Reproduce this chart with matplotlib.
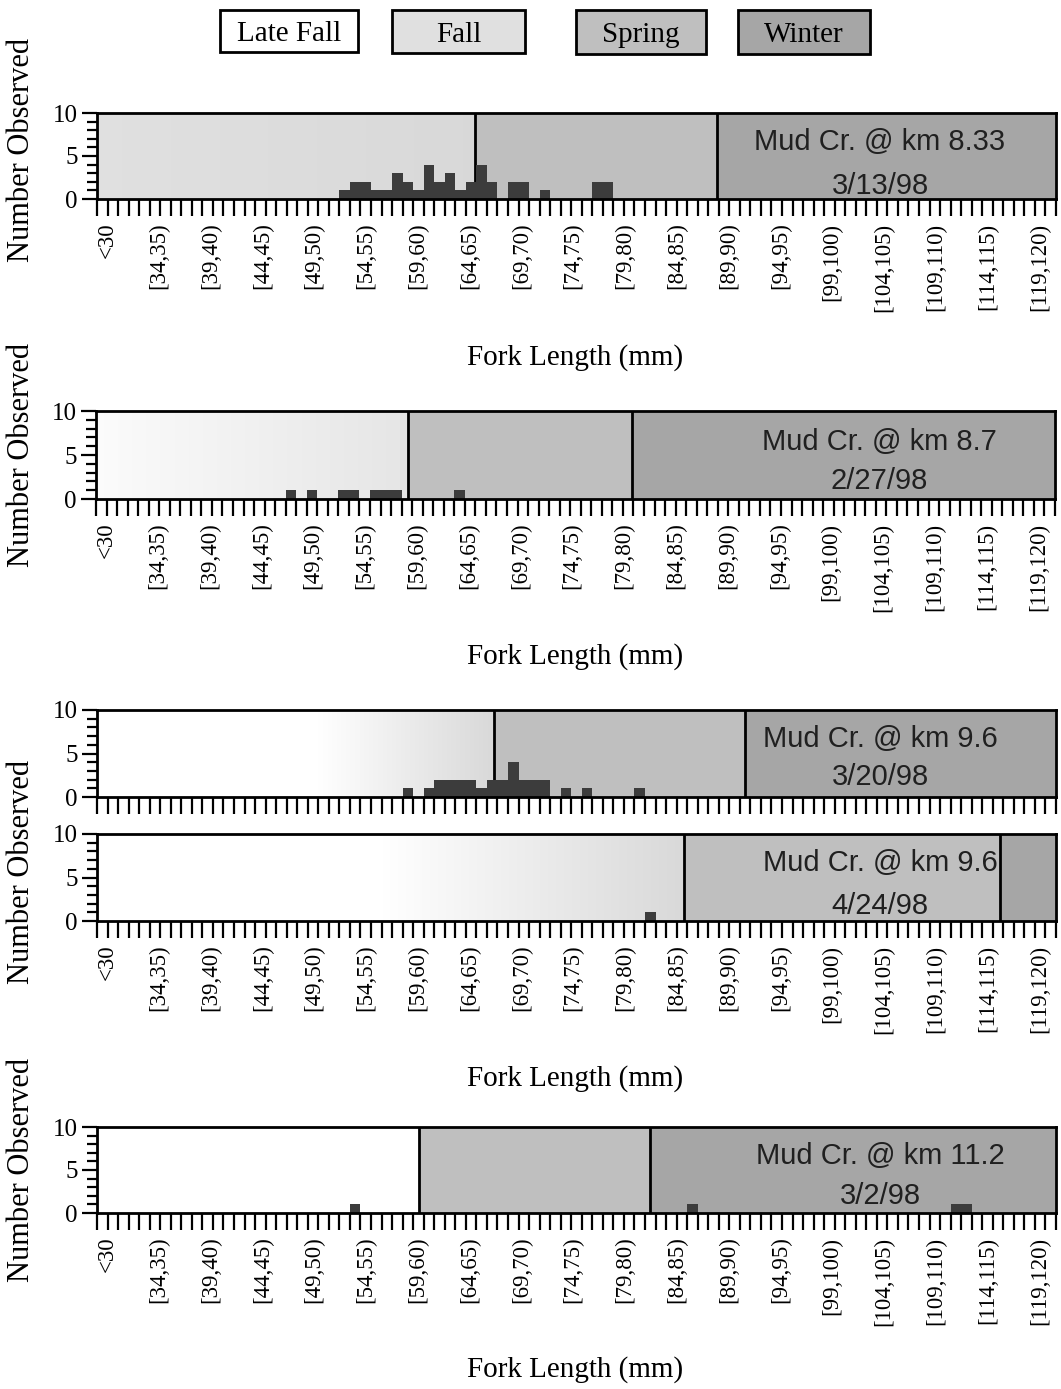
import numpy as np
import matplotlib
matplotlib.use("Agg")
import matplotlib.pyplot as plt
from matplotlib.patches import Rectangle
from matplotlib.colors import LinearSegmentedColormap
from matplotlib.ticker import FixedLocator, MultipleLocator

# ---- fork-length classes: "<30" then 1-mm classes [30,31) ... [119,120)
class_lower = list(range(30, 120))
categories = ["<30"] + [f"[{a},{a + 1})" for a in class_lower]
label_every = 5

# ---- catches per site (fork-length class lower bound -> number observed)
km833_len = [52, 53, 54, 55, 56, 57, 58, 59, 60, 61, 62, 63, 64, 65, 66, 68, 69, 71, 76, 77]
km833_n = [1, 2, 2, 1, 1, 3, 2, 1, 4, 2, 3, 1, 2, 4, 2, 2, 2, 1, 2, 2]

km87_len = [47, 49, 52, 53, 55, 56, 57, 63]
km87_n = [1, 1, 1, 1, 1, 1, 1, 1]

km96a_len = [58, 60, 61, 62, 63, 64, 65, 66, 67, 68, 69, 70, 71, 73, 75, 80]
km96a_n = [1, 1, 2, 2, 2, 2, 1, 2, 2, 4, 2, 2, 2, 1, 1, 1]

km96b_len = [81]
km96b_n = [1]

km112_len = [53, 85, 110, 111]
km112_n = [1, 1, 1, 1]

# run-size criteria on each sampling date (mm): start of Spring, start of Winter
spring_start = [64.9, 58.6, 66.7, 84.7, 59.6]
winter_start = [87.8, 79.9, 90.5, 114.7, 81.5]

site_names = ["Mud Cr. @ km 8.33", "Mud Cr. @ km 8.7", "Mud Cr. @ km 9.6",
              "Mud Cr. @ km 9.6", "Mud Cr. @ km 11.2"]
dates = ["3/13/98", "2/27/98", "3/20/98", "4/24/98", "3/2/98"]

season_names = ["Late Fall", "Fall", "Spring", "Winter"]

# ---- styling
W, H = 1061, 1389
SERIF = ["Liberation Serif", "DejaVu Serif"]
SANS = ["Liberation Sans", "DejaVu Sans"]
c_fall = "#e0e0e0"
c_spring = "#bfbfbf"
c_winter = "#a6a6a6"
c_bar = "#3c3c3c"

# class-label placement along the axis (slightly tighter than the class grid)
label_origin = 0.45
label_step = 4.915

# left-region shading: (fade start in mm, shade at fade start, shade at spring line)
left_shade = [(29.5, 0.88, 0.85), (29.5, 0.985, 0.90), (50.0, 1.0, 0.85),
              (56.0, 1.0, 0.85), (29.5, 1.0, 1.0)]

# axes boxes in pixels: left, right, top, bottom
boxes = [(97, 1056, 113, 199), (96, 1055, 411, 499), (97, 1056, 710, 797),
         (97, 1056, 834, 921), (97, 1056, 1127, 1213)]
show_xlabels = [True, True, False, True, True]
text_y = [(0.665, 0.155), (0.645, 0.2), (0.665, 0.235), (0.665, 0.175), (0.66, 0.2)]

series = [(km833_len, km833_n), (km87_len, km87_n), (km96a_len, km96a_n),
          (km96b_len, km96b_n), (km112_len, km112_n)]


def mm_to_x(v):
    # class k covers [29+k, 30+k) and is drawn from k-0.5 to k+0.5
    return v - 29.5


def full_counts(lengths, counts):
    arr = np.zeros(len(categories))
    for L, n in zip(lengths, counts):
        arr[L - 29] = n
    return arr


fig = plt.figure(figsize=(W / 100, H / 100), dpi=100)
x = np.arange(len(categories))
xmin, xmax = -0.5, len(categories) - 0.5
label_idx = list(range(0, len(categories), label_every))
label_pos = [label_origin + label_step * j for j in range(len(label_idx))]

for i, (l, r, t, b) in enumerate(boxes):
    ax = fig.add_axes([l / W, 1 - b / H, (r - l) / W, (b - t) / H])
    xs, xw = mm_to_x(spring_start[i]), mm_to_x(winter_start[i])

    # left region: late fall / fall shading
    f0, s0, s1 = left_shade[i]
    ax.axvspan(xmin, xs, color=str(s0), lw=0, zorder=0)
    xf = max(mm_to_x(f0), xmin)
    cmap = LinearSegmentedColormap.from_list("fade", [str(s0), str(s1)])
    ax.imshow(np.linspace(0, 1, 256)[None, :], cmap=cmap, aspect="auto",
              extent=[xf, xs, 0, 10], zorder=0.5, interpolation="bilinear")
    ax.axvspan(xs, xw, color=c_spring, lw=0, zorder=1)
    ax.axvspan(xw, xmax, color=c_winter, lw=0, zorder=1)
    for xv in (xs, xw):
        ax.axvline(xv, color="black", lw=2, zorder=2)

    counts = full_counts(*series[i])
    ax.bar(x, counts, width=1.0, color=c_bar, lw=0, zorder=3)

    ax.set_xlim(xmin, xmax)
    ax.set_ylim(0, 10)

    for s in ax.spines.values():
        s.set_linewidth(2)
        s.set_zorder(5)

    ax.yaxis.set_major_locator(FixedLocator([0, 5, 10]))
    ax.yaxis.set_minor_locator(MultipleLocator(1))
    ax.tick_params(axis="y", which="major", length=11, width=1.6, labelsize=18, pad=3)
    ax.tick_params(axis="y", which="minor", length=7, width=1.6)
    for lab in ax.get_yticklabels():
        lab.set_fontfamily(SERIF)

    ax.xaxis.set_major_locator(FixedLocator(label_pos))
    ax.xaxis.set_minor_locator(FixedLocator(np.arange(xmin, xmax + 0.01, 1.0)))
    ax.tick_params(axis="x", which="major", length=0, pad=17)
    ax.tick_params(axis="x", which="minor", length=12, width=1.6)
    if show_xlabels[i]:
        ax.set_xticklabels([categories[k] for k in label_idx], rotation=90,
                           fontsize=16.5, fontfamily=SERIF, va="top", ha="center")
    else:
        ax.set_xticklabels([])

    ax.text(0.8165, text_y[i][0], site_names[i], transform=ax.transAxes,
            ha="center", va="center", fontsize=21, family=SANS, color="#202020", zorder=6)
    ax.text(0.8165, text_y[i][1], dates[i], transform=ax.transAxes,
            ha="center", va="center", fontsize=21, family=SANS, color="#202020", zorder=6)

# axis titles
for yc in (358, 657, 1079, 1370):
    fig.text(575 / W, 1 - yc / H, "Fork Length (mm)", ha="center", va="center",
             fontsize=21, family=SERIF)
for yc in (150, 455, 872, 1170):
    fig.text(22 / W, 1 - yc / H, "Number Observed", ha="center", va="center",
             rotation=90, fontsize=22, family=SERIF)

# season key along the top
key_boxes = [(220, 358, 10, 52), (392, 525, 10, 53), (576, 706, 10, 54), (738, 870, 10, 54)]
key_colors = ["white", c_fall, c_spring, c_winter]
for name, (l, r, t, b), col in zip(season_names, key_boxes, key_colors):
    fig.add_artist(Rectangle((l / W, 1 - b / H), (r - l) / W, (b - t) / H,
                             transform=fig.transFigure, facecolor=col,
                             edgecolor="black", lw=2))
    fig.text((l + r) / 2 / W, 1 - ((t + b) / 2 + 3) / H, name, ha="center", va="center",
             fontsize=21, family=SERIF)

fig.savefig("out.png", dpi=100)
